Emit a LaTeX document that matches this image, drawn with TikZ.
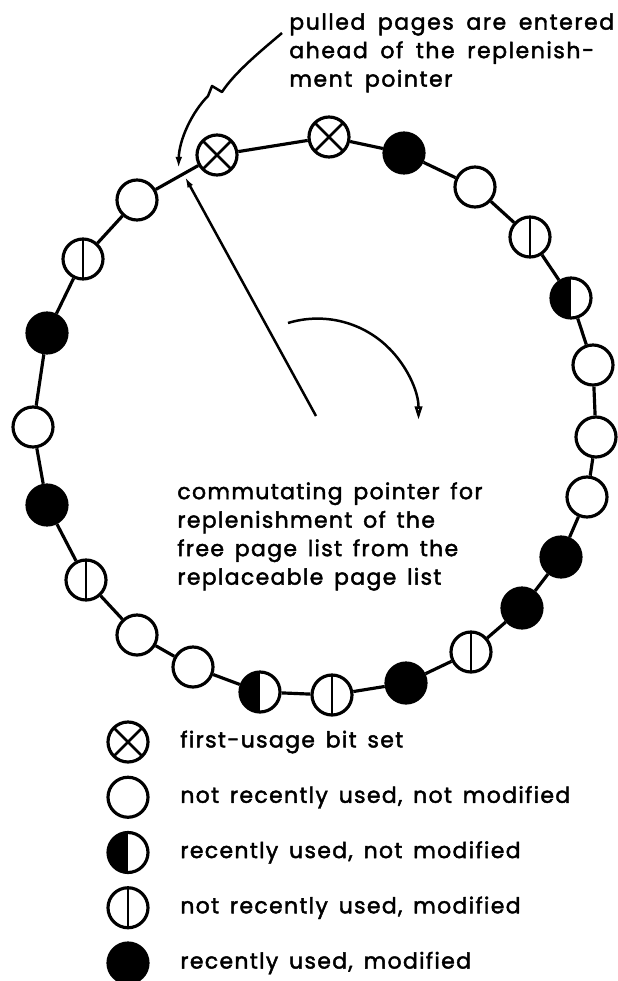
\documentclass[tikz,border=0pt]{standalone}
\usepackage{fontspec}
\newfontfamily\letterfont{Poppins}[LetterSpace=6, FakeBold=2, WordSpace=1.5]
\newfontfamily\notefont{Poppins}[LetterSpace=7, FakeBold=2, WordSpace=1.7]
\usepackage{tikz}
\usetikzlibrary{arrows.meta,calc}

\begin{document}
\begin{tikzpicture}[x=0.6pt, y=-0.6pt, line join=round,
  every node/.style={font=\letterfont\fontsize{13.2pt}{17.1pt}\selectfont},
  page/.style={circle, draw, line width=1.9pt, minimum size=24pt, inner sep=0pt, fill=white},
  firstuse/.style={page, path picture={
      \draw[line width=1.5pt] (path picture bounding box.north west) -- (path picture bounding box.south east)
        (path picture bounding box.north east) -- (path picture bounding box.south west);}},
  clean/.style={page},
  usedclean/.style={page, path picture={
      \fill[black] (path picture bounding box.north west) rectangle (path picture bounding box.south);}},
  dirty/.style={page, path picture={
      \draw[line width=1.5pt] (path picture bounding box.north) -- (path picture bounding box.south);}},
  useddirty/.style={page, fill=black},
  ring/.style={line width=1.9pt},
  txt/.style={align=left, inner sep=0pt, anchor=north west}]
\useasboundingbox (0,0) rectangle (618,981);

\foreach \n/\kind/\x/\y in {1/firstuse/217/155, 2/firstuse/329/137, 3/useddirty/404/153,
    4/clean/475/187, 5/dirty/530/237, 6/usedclean/571/298, 7/clean/593/365,
    8/clean/596/437, 9/clean/587/497, 10/useddirty/561/557, 11/useddirty/522/608,
    12/dirty/471/652, 13/useddirty/406/683, 14/dirty/332/695, 15/usedclean/260/692,
    16/clean/193/667, 17/clean/137/635, 18/dirty/86/580, 19/useddirty/47/505,
    20/clean/33/427, 21/useddirty/47/333, 22/dirty/83/259, 23/clean/137/200}
  \node[\kind] (c\n) at (\x,\y) {};
\foreach \n [remember=\n as \m (initially 23)] in {1,...,23}
  \draw[ring] (c\m) -- (c\n);

\node[txt, font=\notefont\fontsize{13.2pt}{17.1pt}\selectfont]
  (note) at (289,13) {pulled pages are entered\\ahead of the replenish-\\ment pointer};
\coordinate (entry) at ($(c23)!0.52!(c1)+(0,-8)$);
\draw[line width=1.5pt, -{Latex[length=7pt,width=4pt]}] ($(note.north west)+(-7,20)$)
  .. controls (262,50) and (235,72) .. (222,92) -- (212,86) -- (208,96)
  .. controls (192,112) and (179,140) .. (entry);

\coordinate (pivot) at (316,416);
\coordinate (tip) at ($(c23)!0.58!(c1)$);
\draw[line width=1.5pt, -{Latex[length=7pt,width=3.6pt]}, shorten >=1.5pt] (pivot) -- (tip);
\draw[line width=1.5pt, -{Triangle[open,length=8pt,width=4.5pt]}] ($(pivot)+(-28,-93)$)
  arc[start angle=-107, end angle=0, radius=101];

\node[txt] (caption) at (177,482) {commutating pointer for\\replenishment of the\\free page list from the\\replaceable page list};

\foreach \kind/\label [count=\i] in {firstuse/first-usage bit set,
    clean/{not recently used, not modified}, usedclean/{recently used, not modified},
    dirty/{not recently used, modified}, useddirty/{recently used, modified}} {
  \node[\kind] (key\i) at (128,{742+55.25*(\i-1)}) {};
  \node[anchor=west, inner sep=0pt] (label\i) at (180,{742+55.25*(\i-1)}) {\label};
}
\end{tikzpicture}
\end{document}
